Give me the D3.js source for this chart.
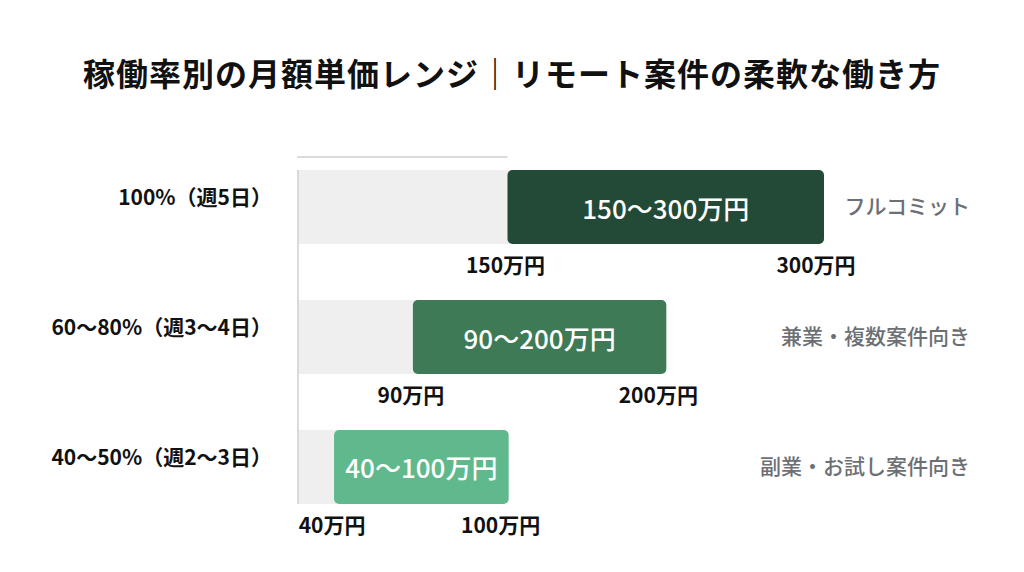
<!DOCTYPE html>
<html>
<head>
<meta charset="utf-8">
<script src="https://cdn.jsdelivr.net/npm/d3@7"></script>
<style>
  html, body { margin: 0; padding: 0; background: #fff; }
  svg { display: block; font-family: "Noto Sans CJK JP", "Noto Sans", sans-serif; }
</style>
</head>
<body>
<script>
const title = "稼働率別の月額単価レンジ｜リモート案件の柔軟な働き方";
const categories = ["100%（週5日）", "60〜80%（週3〜4日）", "40〜50%（週2〜3日）"];
const minValues = [150, 90, 40];
const maxValues = [300, 200, 100];
const notes = ["フルコミット", "兼業・複数案件向き", "副業・お試し案件向き"];
const barColors = ["#234a36", "#3e7a56", "#60b98c"];

const W = 1024, H = 572;
const axisX = 298, barPad = 40;

let rows = categories.map((c, i) => ({cat: c, lo: minValues[i], hi: maxValues[i], note: notes[i], color: barColors[i]}));

let svg = d3.select("body").append("svg").attr("width", W).attr("height", H);

let x = d3.scaleLinear().domain([0, 300]).range([311, 784]);
let y = d3.scaleBand().domain(categories).range([170, 504]).paddingInner(0.43).paddingOuter(0);

/* bars are padded on both ends so the label fits */
let x0 = d => x(d.lo) - barPad;
let x1 = d => x(d.hi) + barPad;

svg.append("text")
    .attr("x", W / 2).attr("y", 72)
    .attr("text-anchor", "middle").attr("dominant-baseline", "central")
    .attr("font-size", 32).attr("font-weight", 700).attr("letter-spacing", 1)
    .attr("fill", "#111")
    .text(title);

// short rule on top + left axis
svg.append("line")
    .attr("x1", axisX - 1).attr("x2", x0(rows[0]))
    .attr("y1", 157).attr("y2", 157)
    .attr("stroke", "#cfcfcf").attr("stroke-width", 1.5);

let g = svg.selectAll("g.row").data(rows).enter().append("g").attr("class", "row");

// grey track from axis to bar start
g.append("rect")
    .attr("x", axisX)
    .attr("y", d => y(d.cat))
    .attr("width", d => x0(d) - axisX + 6)
    .attr("height", y.bandwidth())
    .attr("fill", "#efefef");

g.append("rect")
    .attr("x", x0)
    .attr("y", d => y(d.cat))
    .attr("width", d => x1(d) - x0(d))
    .attr("height", y.bandwidth())
    .attr("rx", 5)
    .attr("fill", d => d.color);

svg.append("line")
    .attr("x1", axisX).attr("x2", axisX)
    .attr("y1", y.range()[0]).attr("y2", y.range()[1])
    .attr("stroke", "#cfcfcf").attr("stroke-width", 1.5);

g.append("text")
    .attr("x", d => (x0(d) + x1(d)) / 2)
    .attr("y", d => y(d.cat) + y.bandwidth() / 2)
    .attr("text-anchor", "middle").attr("dominant-baseline", "central")
    .attr("font-size", 26).attr("font-weight", 500).attr("fill", "#fff")
    .text(d => `${d.lo}〜${d.hi}万円`);

g.append("text")
    .attr("x", 272)
    .attr("y", d => y(d.cat) + y.bandwidth() / 2 - 11)
    .attr("text-anchor", "end").attr("dominant-baseline", "central")
    .attr("font-size", 21).attr("font-weight", 700).attr("fill", "#111")
    .text(d => d.cat);

g.append("text")
    .attr("x", 970)
    .attr("y", d => y(d.cat) + y.bandwidth() / 2 - 2)
    .attr("text-anchor", "end").attr("dominant-baseline", "central")
    .attr("font-size", 21).attr("font-weight", 500).attr("fill", "#6c6f74")
    .text(d => d.note);

// min / max labels under each bar
g.append("text")
    .attr("x", d => x0(d) - 2)
    .attr("y", d => y(d.cat) + y.bandwidth() + 20)
    .attr("text-anchor", "middle").attr("dominant-baseline", "central")
    .attr("font-size", 21).attr("font-weight", 700).attr("fill", "#111")
    .text(d => `${d.lo}万円`);

g.append("text")
    .attr("x", d => x1(d) - 8)
    .attr("y", d => y(d.cat) + y.bandwidth() + 20)
    .attr("text-anchor", "middle").attr("dominant-baseline", "central")
    .attr("font-size", 21).attr("font-weight", 700).attr("fill", "#111")
    .text(d => `${d.hi}万円`);
</script>
</body>
</html>
